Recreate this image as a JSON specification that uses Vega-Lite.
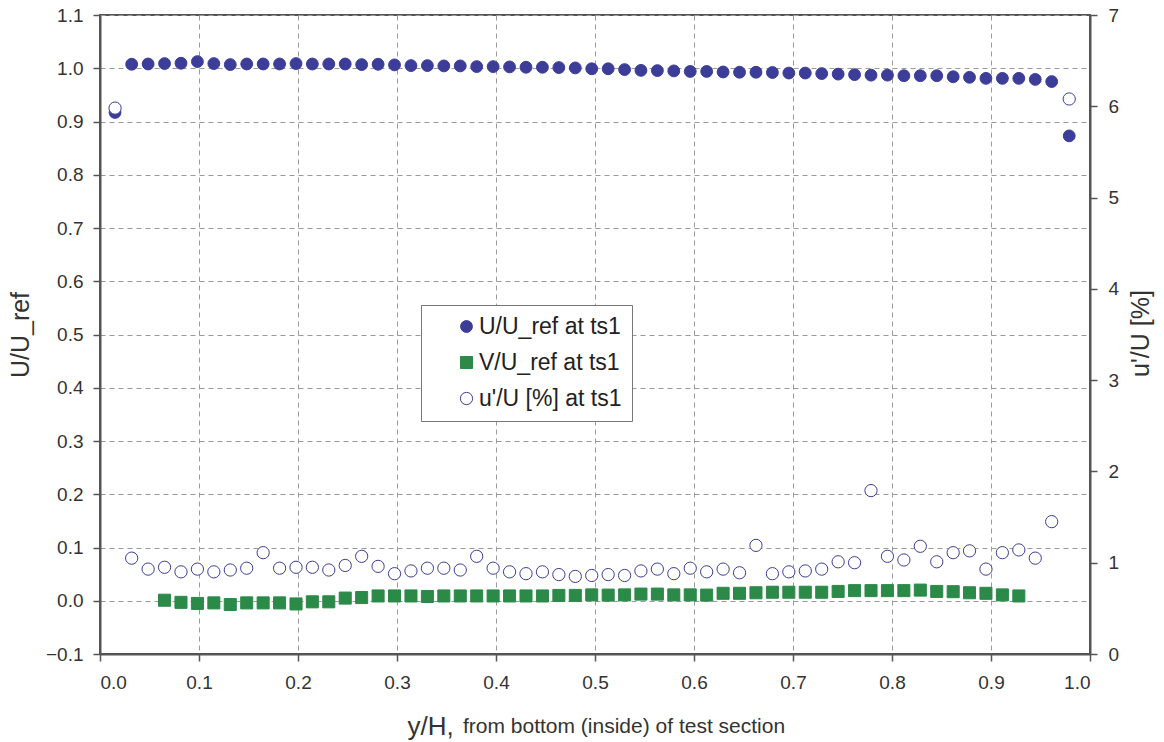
{
  "$schema": "https://vega.github.io/schema/vega-lite/v6.json",
  "width": 990,
  "height": 639,
  "autosize": "none",
  "padding": {"left": 100, "top": 15, "right": 74, "bottom": 88},
  "background": "white",
  "config": {
    "font": "Liberation Sans",
    "view": {"stroke": "#555", "strokeWidth": 2},
    "axis": {
      "labelFontSize": 19,
      "labelColor": "#333",
      "titleColor": "#333",
      "titleFontWeight": "normal",
      "domainColor": "#555",
      "domainWidth": 2,
      "tickColor": "#555",
      "tickWidth": 1.5,
      "tickSize": 7,
      "gridColor": "#9a9a9a",
      "gridDash": [5, 4],
      "gridWidth": 1
    },
    "legend": {
      "orient": "none",
      "legendX": 321,
      "legendY": 290,
      "strokeColor": "#777",
      "fillColor": "white",
      "padding": 10,
      "labelFontSize": 23,
      "labelColor": "#222",
      "labelOffset": 1,
      "labelLimit": 400,
      "rowPadding": 12,
      "symbolOffset": 24
    }
  },
  "title": {
    "text": "from bottom (inside) of test section",
    "orient": "bottom",
    "anchor": "start",
    "frame": "group",
    "fontSize": 21,
    "fontWeight": "normal",
    "color": "#333",
    "baseline": "alphabetic",
    "dx": 363,
    "offset": -6
  },
  "datasets": {
    "d": [
      {"x": 0.0152, "U": 0.917, "T": 5.98},
      {"x": 0.0320, "U": 1.0075, "T": 1.05},
      {"x": 0.0486, "U": 1.008, "T": 0.93},
      {"x": 0.0652, "U": 1.0088, "V": 0.001, "T": 0.95},
      {"x": 0.0818, "U": 1.0094, "V": -0.003, "T": 0.90},
      {"x": 0.0984, "U": 1.0125, "V": -0.005, "T": 0.93},
      {"x": 0.1150, "U": 1.0088, "V": -0.004, "T": 0.90},
      {"x": 0.1316, "U": 1.0069, "V": -0.007, "T": 0.92},
      {"x": 0.1482, "U": 1.008, "V": -0.004, "T": 0.94},
      {"x": 0.1648, "U": 1.008, "V": -0.004, "T": 1.11},
      {"x": 0.1814, "U": 1.008, "V": -0.004, "T": 0.94},
      {"x": 0.1980, "U": 1.0088, "V": -0.006, "T": 0.95},
      {"x": 0.2145, "U": 1.008, "V": -0.002, "T": 0.95},
      {"x": 0.2311, "U": 1.008, "V": -0.002, "T": 0.92},
      {"x": 0.2477, "U": 1.008, "V": 0.005, "T": 0.97},
      {"x": 0.2643, "U": 1.0069, "V": 0.006, "T": 1.07},
      {"x": 0.2809, "U": 1.0075, "V": 0.009, "T": 0.96},
      {"x": 0.2975, "U": 1.0063, "V": 0.009, "T": 0.88},
      {"x": 0.3141, "U": 1.005, "V": 0.009, "T": 0.91},
      {"x": 0.3307, "U": 1.005, "V": 0.008, "T": 0.94},
      {"x": 0.3473, "U": 1.0044, "V": 0.009, "T": 0.94},
      {"x": 0.3639, "U": 1.0044, "V": 0.009, "T": 0.92},
      {"x": 0.3805, "U": 1.0031, "V": 0.009, "T": 1.07},
      {"x": 0.3971, "U": 1.0031, "V": 0.009, "T": 0.94},
      {"x": 0.4137, "U": 1.0025, "V": 0.009, "T": 0.90},
      {"x": 0.4303, "U": 1.0019, "V": 0.009, "T": 0.88},
      {"x": 0.4469, "U": 1.0019, "V": 0.009, "T": 0.90},
      {"x": 0.4635, "U": 1.0013, "V": 0.010, "T": 0.87},
      {"x": 0.4801, "U": 1.0006, "V": 0.010, "T": 0.85},
      {"x": 0.4967, "U": 0.999, "V": 0.011, "T": 0.86},
      {"x": 0.5133, "U": 0.999, "V": 0.0106, "T": 0.87},
      {"x": 0.5299, "U": 0.9975, "V": 0.011, "T": 0.86},
      {"x": 0.5464, "U": 0.996, "V": 0.0125, "T": 0.91},
      {"x": 0.5630, "U": 0.9956, "V": 0.0125, "T": 0.93},
      {"x": 0.5796, "U": 0.995, "V": 0.011, "T": 0.88},
      {"x": 0.5962, "U": 0.994, "V": 0.011, "T": 0.94},
      {"x": 0.6128, "U": 0.994, "V": 0.0106, "T": 0.90},
      {"x": 0.6294, "U": 0.993, "V": 0.014, "T": 0.93},
      {"x": 0.6460, "U": 0.9925, "V": 0.014, "T": 0.89},
      {"x": 0.6626, "U": 0.9925, "V": 0.015, "T": 1.19},
      {"x": 0.6792, "U": 0.992, "V": 0.016, "T": 0.88},
      {"x": 0.6958, "U": 0.991, "V": 0.016, "T": 0.90},
      {"x": 0.7124, "U": 0.991, "V": 0.016, "T": 0.91},
      {"x": 0.7290, "U": 0.990, "V": 0.016, "T": 0.93},
      {"x": 0.7456, "U": 0.989, "V": 0.0175, "T": 1.01},
      {"x": 0.7622, "U": 0.988, "V": 0.019, "T": 1.00},
      {"x": 0.7788, "U": 0.987, "V": 0.019, "T": 1.79},
      {"x": 0.7954, "U": 0.987, "V": 0.019, "T": 1.07},
      {"x": 0.8120, "U": 0.986, "V": 0.019, "T": 1.03},
      {"x": 0.8286, "U": 0.986, "V": 0.020, "T": 1.18},
      {"x": 0.8452, "U": 0.986, "V": 0.0175, "T": 1.01},
      {"x": 0.8618, "U": 0.984, "V": 0.017, "T": 1.11},
      {"x": 0.8783, "U": 0.983, "V": 0.015, "T": 1.13},
      {"x": 0.8949, "U": 0.981, "V": 0.014, "T": 0.93},
      {"x": 0.9115, "U": 0.981, "V": 0.011, "T": 1.11},
      {"x": 0.9281, "U": 0.981, "V": 0.009, "T": 1.14},
      {"x": 0.9447, "U": 0.979, "T": 1.05},
      {"x": 0.9613, "U": 0.975, "T": 1.45},
      {"x": 0.9790, "U": 0.873, "T": 6.08}
    ]
  },
  "layer": [
    {
      "data": {"name": "d"},
      "transform": [
        {"fold": ["U", "V"], "as": ["s", "val"]},
        {"filter": "isValid(datum.val)"}
      ],
      "mark": {"type": "point", "opacity": 1},
      "encoding": {
        "x": {
          "field": "x", "type": "quantitative",
          "scale": {"domain": [0, 1]},
          "axis": {
            "values": [0, 0.1, 0.2, 0.3, 0.4, 0.5, 0.6, 0.7, 0.8, 0.9, 1],
            "format": ".1f",
            "grid": true,
            "labelPadding": 12,
            "title": "y/H,",
            "titleFontSize": 26,
            "titleX": 307,
            "titleY": 80,
            "titleAlign": "left",
            "titleBaseline": "alphabetic"
          }
        },
        "y": {
          "field": "val", "type": "quantitative",
          "scale": {"domain": [-0.1, 1.1]},
          "axis": {
            "values": [-0.1, 0, 0.1, 0.2, 0.3, 0.4, 0.5, 0.6, 0.7, 0.8, 0.9, 1, 1.1],
            "format": ".1f",
            "grid": true,
            "labelPadding": 10,
            "title": "U/U_ref",
            "titleFontSize": 25,
            "titlePadding": 12
          }
        },
        "shape": {"field": "s", "type": "nominal", "scale": {"domain": ["U", "V", "T"], "range": ["circle", "square", "circle"]},
          "legend": {"title": null, "labelExpr": "datum.label == 'U' ? 'U/U_ref at ts1' : datum.label == 'V' ? 'V/U_ref at ts1' : \"u'/U [%] at ts1\"",
            "encode": {"entries": {"update": {"width": {"value": 235}}}}}},
        "fill": {"field": "s", "type": "nominal", "scale": {"domain": ["U", "V", "T"], "range": ["#3b3d99", "#2b8a48", "#ffffff"]},
          "legend": {"title": null, "labelExpr": "datum.label == 'U' ? 'U/U_ref at ts1' : datum.label == 'V' ? 'V/U_ref at ts1' : \"u'/U [%] at ts1\"",
            "encode": {"entries": {"update": {"width": {"value": 235}}}}}},
        "stroke": {"field": "s", "type": "nominal", "scale": {"domain": ["U", "V", "T"], "range": ["#3b3d99", "#2b8a48", "#3b3d99"]},
          "legend": {"title": null, "labelExpr": "datum.label == 'U' ? 'U/U_ref at ts1' : datum.label == 'V' ? 'V/U_ref at ts1' : \"u'/U [%] at ts1\"",
            "encode": {"entries": {"update": {"width": {"value": 235}}}}}},
        "size": {"field": "s", "type": "nominal", "scale": {"domain": ["U", "V", "T"], "range": [140, 150, 75]},
          "legend": {"title": null, "labelExpr": "datum.label == 'U' ? 'U/U_ref at ts1' : datum.label == 'V' ? 'V/U_ref at ts1' : \"u'/U [%] at ts1\"",
            "encode": {"entries": {"update": {"width": {"value": 235}}}}}},
        "strokeWidth": {"field": "s", "type": "nominal", "scale": {"domain": ["U", "V", "T"], "range": [1, 1, 2]},
          "legend": {"title": null, "labelExpr": "datum.label == 'U' ? 'U/U_ref at ts1' : datum.label == 'V' ? 'V/U_ref at ts1' : \"u'/U [%] at ts1\"",
            "encode": {"entries": {"update": {"width": {"value": 235}}}}}}
      }
    },
    {
      "data": {"name": "d"},
      "transform": [
        {"fold": ["T"], "as": ["s", "val"]},
        {"filter": "isValid(datum.val)"}
      ],
      "mark": {"type": "point", "opacity": 1},
      "encoding": {
        "x": {"field": "x", "type": "quantitative"},
        "y": {
          "field": "val", "type": "quantitative",
          "scale": {"domain": [0, 7]},
          "axis": {
            "orient": "right",
            "values": [0, 1, 2, 3, 4, 5, 6, 7],
            "format": "d",
            "grid": false,
            "labelPadding": 11,
            "title": "u'/U [%]",
            "titleFontSize": 25,
            "titleAngle": 270,
            "titleX": 50,
            "titleY": 318,
            "titleAlign": "center",
            "titleBaseline": "middle"
          }
        },
        "shape": {"field": "s", "type": "nominal"},
        "fill": {"field": "s", "type": "nominal"},
        "stroke": {"field": "s", "type": "nominal"},
        "size": {"field": "s", "type": "nominal"},
        "strokeWidth": {"field": "s", "type": "nominal"}
      }
    }
  ],
  "resolve": {"scale": {"y": "independent"}}
}
